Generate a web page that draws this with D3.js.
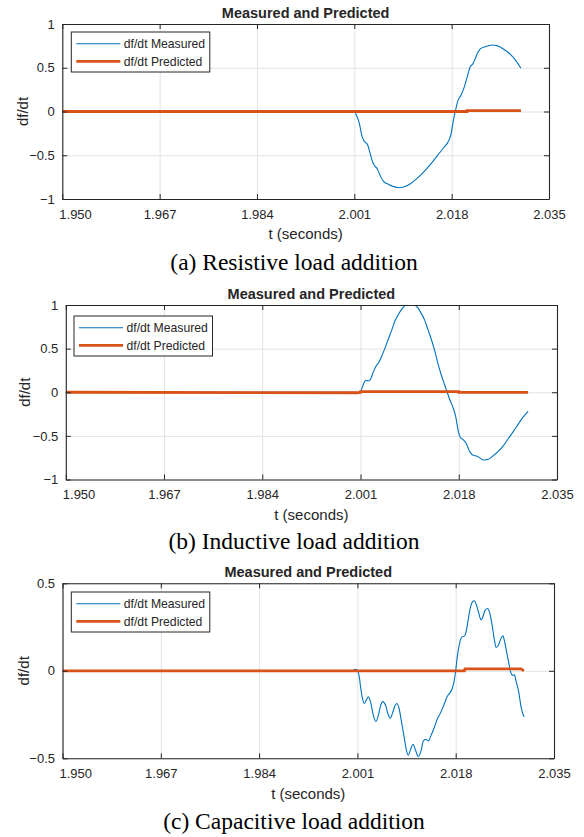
<!DOCTYPE html>
<html>
<head>
<meta charset="utf-8">
<script src="https://cdn.jsdelivr.net/npm/d3@7"></script>
<style>
  body { margin: 0; background: #fff; }
  svg { display: block; }
  text { font-family: "Liberation Sans", Arial, sans-serif; fill: #262626; }
  .caption { font-family: "Liberation Serif", "Times New Roman", serif; fill: #000; }
</style>
</head>
<body>
<div id="chart"></div>
<script>
// tick values shared by all three panels
const xTicks = [1.950, 1.967, 1.984, 2.001, 2.018, 2.035];
const yTicksFull = [-1, -0.5, 0, 0.5, 1];
const yTicksHalf = [-0.5, 0, 0.5];

// (a) resistive load
const tResistive = [1.950, 2.0000, 2.0010, 2.0014, 2.0019, 2.0023, 2.0027, 2.0033, 2.0037, 2.0042, 2.0046,
  2.0050, 2.0055, 2.0061, 2.0070, 2.0078, 2.0087, 2.0096, 2.0108, 2.0119, 2.0131, 2.0143, 2.0154,
  2.0166, 2.0175, 2.0179, 2.0182, 2.0186, 2.0191, 2.0196, 2.0202, 2.0207, 2.0212, 2.0217, 2.0221,
  2.0226, 2.0230, 2.0239, 2.0251, 2.0259, 2.0271, 2.0283, 2.0292, 2.0301];
const dfdtResistive = [0, 0, 0, -0.046, -0.141, -0.274, -0.338, -0.376, -0.464, -0.578, -0.624,
  -0.654, -0.730, -0.798, -0.833, -0.856, -0.871, -0.863, -0.825, -0.768, -0.692, -0.605, -0.513,
  -0.414, -0.331, -0.255, -0.141, -0.008, 0.125, 0.183, 0.278, 0.392, 0.506, 0.544, 0.601,
  0.677, 0.715, 0.741, 0.760, 0.753, 0.711, 0.650, 0.582, 0.494];
const tPredResistive = [1.950, 2.0207, 2.0207, 2.0301];
const predResistive = [0, 0, 0.011, 0.011];

// (b) inductive load
const tInductive = [1.950, 2.0000, 2.0010, 2.0012, 2.0016, 2.0019, 2.0024, 2.0027, 2.0032, 2.0037, 2.0042,
  2.0046, 2.0052, 2.0058, 2.0064, 2.0069, 2.0075, 2.0081, 2.0087, 2.0092, 2.0098, 2.0104, 2.0110,
  2.0115, 2.0121, 2.0127, 2.0133, 2.0139, 2.0144, 2.0150, 2.0156, 2.0160, 2.0164, 2.0170, 2.0175,
  2.0179, 2.0183, 2.0188, 2.0192, 2.0196, 2.0200, 2.0205, 2.0211, 2.0216, 2.0223, 2.0231, 2.0239,
  2.0248, 2.0257, 2.0265, 2.0274, 2.0283, 2.0291, 2.0300];
const dfdtInductive = [0, 0, 0, 0.038, 0.108, 0.135, 0.131, 0.146, 0.231, 0.300, 0.346,
  0.404, 0.500, 0.608, 0.712, 0.808, 0.885, 0.950, 0.992, 1.015, 1.015, 1.000, 0.962,
  0.904, 0.827, 0.712, 0.596, 0.462, 0.327, 0.192, 0.077, 0.000, -0.077, -0.173, -0.288,
  -0.442, -0.519, -0.546, -0.577, -0.635, -0.692, -0.723, -0.731, -0.750, -0.777, -0.769, -0.731,
  -0.681, -0.615, -0.538, -0.454, -0.365, -0.288, -0.219];
const tPredInductive = [1.950, 2.0005, 2.0010, 2.0010, 2.0180, 2.0180, 2.0300];
const predInductive = [0, -0.006, 0, 0.008, 0.008, -0.002, -0.002];

// (c) capacitive load
const tCapacitive = [1.950, 2.0000, 2.0006, 2.0010, 2.0013, 2.0016, 2.0019, 2.0022, 2.0026, 2.0029, 2.0033,
  2.0037, 2.0042, 2.0046, 2.0050, 2.0054, 2.0059, 2.0063, 2.0067, 2.0071, 2.0075, 2.0078, 2.0082,
  2.0086, 2.0091, 2.0095, 2.0098, 2.0102, 2.0106, 2.0111, 2.0115, 2.0120, 2.0124, 2.0128, 2.0133,
  2.0137, 2.0143, 2.0148, 2.0154, 2.0160, 2.0166, 2.0170, 2.0174, 2.0177, 2.0180, 2.0182, 2.0185,
  2.0188, 2.0191, 2.0195, 2.0198, 2.0201, 2.0205, 2.0209, 2.0212, 2.0216, 2.0220, 2.0224, 2.0227,
  2.0231, 2.0235, 2.0239, 2.0243, 2.0247, 2.0250, 2.0254, 2.0259, 2.0262, 2.0264, 2.0268, 2.0272,
  2.0275, 2.0278, 2.0282, 2.0284, 2.0289, 2.0293, 2.0298];
const dfdtCapacitive = [0, 0, 0.008, 0.004, -0.029, -0.105, -0.162, -0.187, -0.162, -0.149, -0.181,
  -0.248, -0.290, -0.258, -0.200, -0.176, -0.200, -0.248, -0.271, -0.239, -0.200, -0.187, -0.214,
  -0.286, -0.382, -0.458, -0.483, -0.449, -0.420, -0.458, -0.490, -0.458, -0.401, -0.391, -0.401,
  -0.372, -0.324, -0.277, -0.239, -0.191, -0.143, -0.126, -0.101, -0.063, 0.000, 0.061, 0.128,
  0.175, 0.194, 0.198, 0.223, 0.280, 0.356, 0.394, 0.400, 0.375, 0.328, 0.290, 0.309,
  0.347, 0.356, 0.328, 0.261, 0.175, 0.133, 0.147, 0.190, 0.200, 0.175, 0.109, 0.042,
  -0.006, -0.025, -0.025, -0.053, -0.120, -0.206, -0.263];
const tPredCapacitive = [1.950, 2.0195, 2.0196, 2.0293, 2.0298];
const predCapacitive = [0, 0, 0.011, 0.011, 0];

const seriesNames = ["df/dt Measured", "df/dt Predicted"];
const captions = ["(a) Resistive load addition", "(b) Inductive load addition", "(c) Capacitive load addition"];

const blue = "#0072BD", orange = "#D95319", axisColor = "#262626", gridColor = "#e3e3e3";

const W = 584, H = 837;
const svg = d3.select("#chart").append("svg").attr("width", W).attr("height", H);

// layout of each panel (pixel boxes), data comes from the arrays above
const panels = [
  {t: tResistive, v: dfdtResistive, tp: tPredResistive, vp: predResistive, yTicks: yTicksFull,
   left: 62.3, right: 549, top: 24, bottom: 199, ylabX: 23, capY: 270, legX: 71.3, legY: 32},
  {t: tInductive, v: dfdtInductive, tp: tPredInductive, vp: predInductive, yTicks: yTicksFull,
   left: 65.8, right: 557, top: 305, bottom: 479.5, ylabX: 25, capY: 549, legX: 74, legY: 316},
  {t: tCapacitive, v: dfdtCapacitive, tp: tPredCapacitive, vp: predCapacitive, yTicks: yTicksHalf,
   left: 62.5, right: 554, top: 583.3, bottom: 758.3, ylabX: 24, capY: 829, legX: 71.3, legY: 592}
];

panels.forEach((p, i) => {
  const w = p.right - p.left, h = p.bottom - p.top;
  const x = d3.scaleLinear().domain([xTicks[0], xTicks[xTicks.length - 1]]).range([0, w]);
  const y = d3.scaleLinear().domain(d3.extent(p.yTicks)).range([h, 0]);

  const g = svg.append("g").attr("transform", `translate(${p.left},${p.top})`);

  g.append("clipPath").attr("id", "clip" + i)
    .append("rect").attr("width", w).attr("height", h);

  // grid
  g.append("g").attr("class", "grid").attr("transform", `translate(0,${h})`)
    .call(d3.axisBottom(x).tickValues(xTicks).tickSize(-h).tickFormat(""))
    .call(s => s.select(".domain").remove())
    .selectAll("line").attr("stroke", gridColor);
  g.append("g").attr("class", "grid")
    .call(d3.axisLeft(y).tickValues(p.yTicks).tickSize(-w).tickFormat(""))
    .call(s => s.select(".domain").remove())
    .selectAll("line").attr("stroke", gridColor);

  // lines
  const plot = g.append("g").attr("clip-path", `url(#clip${i})`);
  plot.append("path")
    .datum(d3.zip(p.t, p.v))
    .attr("fill", "none").attr("stroke", blue).attr("stroke-width", 1.1)
    .attr("d", d3.line().x(d => x(d[0])).y(d => y(d[1])).curve(d3.curveMonotoneX));
  plot.append("path")
    .datum(d3.zip(p.tp, p.vp))
    .attr("fill", "none").attr("stroke", orange).attr("stroke-width", 2.8)
    .attr("d", d3.line().x(d => x(d[0])).y(d => y(d[1])));

  // axes, ticks pointing inward on all four sides
  const fmtX = d3.format(".3f");
  const fmtY = d => d3.format("")(d);
  const bottomAx = g.append("g").attr("class", "ax").attr("transform", `translate(0,${h})`)
    .call(d3.axisBottom(x).tickValues(xTicks).tickSizeInner(-5).tickSizeOuter(0).tickFormat(fmtX));
  bottomAx.selectAll("text").attr("y", 15).attr("dy", "0.35em");
  bottomAx.selectAll(".tick").filter((d, k) => k === 0).select("text")
    .attr("text-anchor", "start").attr("x", -3.5);
  g.append("g").attr("class", "ax")
    .call(d3.axisTop(x).tickValues(xTicks).tickSizeInner(-5).tickSizeOuter(0).tickFormat(""));
  g.append("g").attr("class", "ax")
    .call(d3.axisLeft(y).tickValues(p.yTicks).tickSizeInner(-5).tickSizeOuter(0).tickPadding(7.5).tickFormat(fmtY));
  g.append("g").attr("class", "ax").attr("transform", `translate(${w},0)`)
    .call(d3.axisRight(y).tickValues(p.yTicks).tickSizeInner(-5).tickSizeOuter(0).tickFormat(""));
  g.selectAll(".ax .domain").attr("stroke", axisColor).attr("stroke-width", 1.1);
  g.selectAll(".ax .tick line").attr("stroke", axisColor);
  g.selectAll(".ax .tick text").attr("font-size", 13).attr("fill", axisColor);

  // title and labels
  g.append("text").attr("x", w / 2).attr("y", -11.5).attr("dy", "0.35em")
    .attr("text-anchor", "middle").attr("font-weight", "bold").attr("font-size", 14.5)
    .attr("fill", "#000").text("Measured and Predicted");
  g.append("text").attr("x", w / 2).attr("y", h + 35).attr("dy", "0.35em")
    .attr("text-anchor", "middle").attr("font-size", 15).text("t (seconds)");
  svg.append("text")
    .attr("transform", `translate(${p.ylabX},${p.top + h / 2}) rotate(-90)`)
    .attr("dy", "0.35em").attr("text-anchor", "middle").attr("font-size", 15).text("df/dt");

  // legend
  const leg = svg.append("g").attr("transform", `translate(${p.legX},${p.legY})`);
  leg.append("rect").attr("width", 138.5).attr("height", 40)
    .attr("fill", "#fff").attr("stroke", axisColor).attr("stroke-width", 1);
  seriesNames.forEach((name, k) => {
    const ry = 11.7 + k * 17.6;
    leg.append("line").attr("x1", 5).attr("x2", 49).attr("y1", ry).attr("y2", ry)
      .attr("stroke", k === 0 ? blue : orange).attr("stroke-width", k === 0 ? 1.1 : 2.8);
    leg.append("text").attr("x", 52.5).attr("y", ry).attr("dy", "0.35em")
      .attr("font-size", 12.2).attr("fill", "#000").text(name);
  });

  // caption
  svg.append("text").attr("class", "caption")
    .attr("x", 294).attr("y", p.capY).attr("text-anchor", "middle")
    .attr("font-size", 23.5).text(captions[i]);
});
</script>
</body>
</html>
